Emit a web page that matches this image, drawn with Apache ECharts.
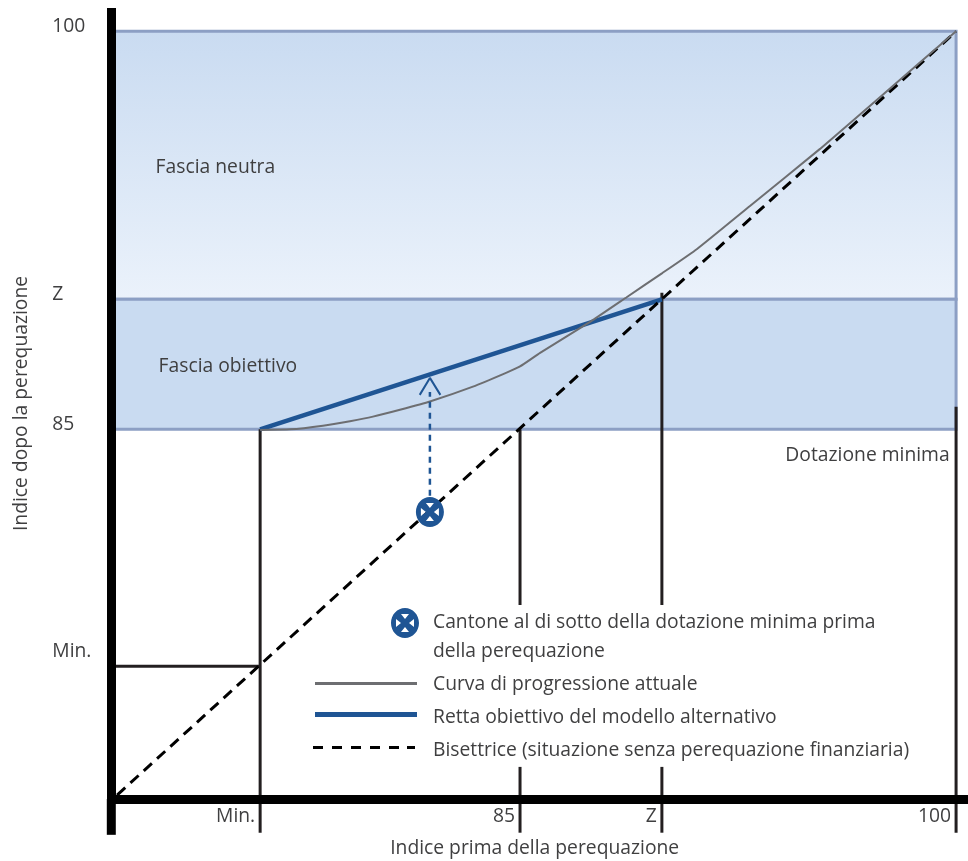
<!DOCTYPE html>
<html>
<head>
<meta charset="utf-8">
<style>
  html, body { margin: 0; padding: 0; background: #fff; }
  #chart { width: 968px; height: 861px; }
</style>
</head>
<body>
<div id="chart"></div>
<script src="https://cdn.jsdelivr.net/npm/echarts@6/dist/echarts.min.js"></script>
<script>
// positions on the schematic index scale
const indexMin = 76.06
const index85 = 85
const indexZ = 89.88
const index100 = 100
const indexMinY = 76.07
const indexZY = 89.9
const plotLeft = 71.14
const bandLeft = 71.0

const xTickValues = [indexMin, index85, indexZ, index100]
const xTickLabels = ['Min.', '85', 'Z', '100']
const yTickValues = [index100, indexZY, index85, indexMinY]
const yTickLabels = ['100', 'Z', '85', 'Min.']

const bisector = [[plotLeft, 71.22], [100, 100]]
const currentCurve = [
  [76.06, 84.98], [77.09, 85.0], [78.22, 85.14], [79.15, 85.31], [79.94, 85.48],
  [80.87, 85.74], [81.9, 86.05], [83.38, 86.61], [84.48, 87.11], [85.0, 87.37],
  [85.69, 87.88], [87.41, 89.05], [88.68, 89.99], [89.88, 90.88], [91.09, 91.8],
  [92.91, 93.42], [95.32, 95.57], [97.39, 97.53], [100, 100]
]
const targetLine = [[76.06, 85], [89.88, 89.9]]

const neutralBand = [89.9, 100]
const targetBand = [85, 89.9]

const cantonPoint = [81.9, 81.89]
const arrowShaft = [[81.9, 82.5], [81.9, 86.41]]
const arrowHead = [[81.55, 86.3], [81.9, 86.94], [82.26, 86.3]]

const dropMinX = [[indexMin, 85], [indexMin, 69.8]]
const drop85Top = [[index85, 85], [index85, 78.38]]
const drop85Bottom = [[index85, 72.28], [index85, 69.8]]
const dropZTop = [[indexZ, 90.15], [indexZ, 78.38]]
const dropZBottom = [[indexZ, 72.28], [indexZ, 69.8]]
const drop100 = [[index100, 85.85], [index100, 69.8]]
const minLevel = [[bandLeft, indexMinY], [indexMin, indexMinY]]
const yAxisTail = [[70.94, 71.07], [70.94, 69.72]]

const seriesNames = [
  'Cantone al di sotto della dotazione minima prima\ndella perequazione',
  'Curva di progressione attuale',
  'Retta obiettivo del modello alternativo',
  'Bisettrice (situazione senza perequazione finanziaria)'
]

const fontName = '"Open Sans", "Noto Sans", sans-serif'
const fontSize = 19.3
const textColor = '#3f3f40'
const blue = '#1f5594'
const grey = '#6d6e71'
const lineBlack = '#231f20'

// blue disc with four white wedges, gives the crossed circle
const disc = (x) => `M${x + 14} 0C${x + 21.7} 0 ${x + 28} 6.7 ${x + 28} 15S${x + 21.7} 30 ${x + 14} 30S${x} 23.3 ${x} 15S${x + 6.3} 0 ${x + 14} 0Z` +
  `M${x + 14} 11L${x + 18} 6L${x + 10} 6Z M${x + 14} 19L${x + 10} 24L${x + 18} 24Z` +
  `M${x + 10} 15L${x + 5} 11L${x + 5} 19Z M${x + 18} 15L${x + 23} 19L${x + 23} 11Z`

// legend icons: the two tiny corners keep every icon on the same 115x30 box
const iconBox = 'M0 0L0.01 0.01Z M115 30L114.99 29.99Z '
const iconMarker = 'path://' + iconBox + disc(78)
const iconCurve = 'path://' + iconBox + 'M2 12.5L104 12.5L104 15.5L2 15.5Z'
const iconTarget = 'path://' + iconBox + 'M2 9.5L104 9.5L104 14.5L2 14.5Z'
const iconBisector = 'path://' + iconBox +
  'M0 10.5h10v3h-10Z M19 10.5h10v3h-10Z M38 10.5h10v3h-10Z M57 10.5h10v3h-10Z M76 10.5h10v3h-10Z M94 10.5h8v3h-8Z'

function blackLine(data) {
  return {
    type: 'line',
    data,
    symbol: 'none',
    clip: false,
    silent: true,
    z: 4,
    lineStyle: { color: lineBlack, width: 3, cap: 'butt' }
  }
}

const chart = echarts.init(document.getElementById('chart'))

chart.setOption({
  animation: false,
  textStyle: { fontFamily: fontName },
  grid: { left: 111.3, right: 0, top: 8, bottom: 62, outerBoundsMode: 'none' },
  legend: {
    orient: 'vertical',
    left: 313,
    top: 579.5,
    padding: 0,
    itemWidth: 115,
    itemHeight: 30,
    itemGap: 3,
    itemStyle: { borderWidth: 0 },
    selectedMode: false,
    textStyle: { color: textColor, fontSize, lineHeight: 29, fontFamily: fontName },
    data: [
      { name: seriesNames[0], icon: iconMarker, itemStyle: { color: blue } },
      { name: seriesNames[1], icon: iconCurve, itemStyle: { color: grey } },
      { name: seriesNames[2], icon: iconTarget, itemStyle: { color: blue } },
      { name: seriesNames[3], icon: iconBisector, itemStyle: { color: '#000' } }
    ],
    formatter: (name) => name === seriesNames[0] ? '\n' + name : name
  },
  xAxis: {
    type: 'value',
    min: 70.94,
    max: 100.41,
    z: 10,
    splitLine: { show: false },
    axisLine: { lineStyle: { color: '#000', width: 9, cap: 'butt' } },
    axisTick: { show: false },
    axisLabel: {
      customValues: xTickValues,
      color: textColor,
      fontSize,
      align: 'right',
      margin: 8,
      padding: [0, 5, 0, 0],
      formatter: (v) => xTickLabels[xTickValues.indexOf(v)]
    },
    name: 'Indice prima della perequazione',
    nameLocation: 'middle',
    nameGap: 40,
    nameTextStyle: { color: textColor, fontSize, padding: [0, 10, 0, 0] }
  },
  yAxis: {
    type: 'value',
    min: 71.07,
    max: 100.88,
    z: 10,
    splitLine: { show: false },
    axisLine: { lineStyle: { color: '#000', width: 9, cap: 'butt' } },
    axisTick: { show: false },
    axisLabel: {
      customValues: yTickValues,
      color: textColor,
      fontSize,
      align: 'left',
      margin: 59,
      formatter: (v) => {
        const label = yTickLabels[yTickValues.indexOf(v)]
        return label === 'Min.' ? `{min|${label}}` : `{lift|${label}}`
      },
      rich: {
        lift: { color: textColor, fontSize, padding: [0, 0, 10, 0] },
        min: { color: textColor, fontSize, padding: [0, 0, 30, 0] }
      }
    },
    name: 'Indice dopo la perequazione',
    nameLocation: 'middle',
    nameGap: 80,
    nameTextStyle: { color: textColor, fontSize }
  },
  series: [
    {
      name: seriesNames[0],
      type: 'scatter',
      data: [cantonPoint],
      symbol: 'path://' + disc(0),
      symbolSize: [28, 30],
      itemStyle: { color: blue, opacity: 1 },
      silent: true,
      z: 8
    },
    {
      name: seriesNames[1],
      type: 'line',
      data: currentCurve,
      symbol: 'none',
      smooth: 0.15,
      silent: true,
      z: 6,
      lineStyle: { color: grey, width: 2 },
      itemStyle: { color: grey }
    },
    {
      name: seriesNames[2],
      type: 'line',
      data: targetLine,
      symbol: 'none',
      silent: true,
      z: 5,
      lineStyle: { color: blue, width: 4.5 },
      itemStyle: { color: blue }
    },
    {
      name: seriesNames[3],
      type: 'line',
      data: bisector,
      symbol: 'none',
      silent: true,
      z: 5,
      lineStyle: { color: '#000', width: 3, type: [11, 7] },
      itemStyle: { color: '#000' }
    },
    // shaded bands, drawn with the scale of the axes
    {
      type: 'line',
      data: [],
      silent: true,
      z: 1,
      markArea: {
        silent: true,
        itemStyle: { borderColor: '#8c9fc4', borderWidth: 3 },
        label: {
          color: textColor,
          fontSize,
          position: 'insideLeft',
          fontFamily: fontName
        },
        data: [
          [
            {
              name: 'Fascia neutra',
              xAxis: bandLeft,
              yAxis: neutralBand[1],
              label: { distance: 0, offset: [44, 2] },
              itemStyle: {
                color: new echarts.graphic.LinearGradient(0, 0, 0, 1, [
                  { offset: 0, color: '#c9dbf1' },
                  { offset: 1, color: '#ebf2fb' }
                ])
              }
            },
            { xAxis: index100, yAxis: neutralBand[0] }
          ],
          [
            {
              name: 'Fascia obiettivo',
              xAxis: bandLeft,
              yAxis: targetBand[1],
              label: { distance: 0, offset: [47, 2] },
              itemStyle: { color: '#c9dbf1' }
            },
            { xAxis: index100, yAxis: targetBand[0] }
          ]
        ]
      }
    },
    // note under the target band
    {
      type: 'scatter',
      data: [[99.78, 84.0]],
      symbolSize: 0,
      silent: true,
      itemStyle: { opacity: 1 },
      label: {
        show: true,
        formatter: 'Dotazione minima',
        position: 'left',
        distance: 0,
        color: textColor,
        fontSize
      }
    },
    {
      type: 'line',
      data: arrowShaft,
      symbol: 'none',
      silent: true,
      z: 7,
      lineStyle: { color: blue, width: 2.5, type: [6, 5] }
    },
    {
      type: 'line',
      data: arrowHead,
      symbol: 'none',
      silent: true,
      z: 7,
      lineStyle: { color: blue, width: 2 }
    },
    blackLine(dropMinX),
    blackLine(drop85Top),
    blackLine(drop85Bottom),
    blackLine(dropZTop),
    blackLine(dropZBottom),
    blackLine(drop100),
    blackLine(minLevel),
    {
      type: 'line',
      data: yAxisTail,
      symbol: 'none',
      clip: false,
      silent: true,
      z: 4,
      lineStyle: { color: '#000', width: 9, cap: 'butt' }
    }
  ]
})

window.addEventListener('resize', () => chart.resize())
</script>
</body>
</html>
